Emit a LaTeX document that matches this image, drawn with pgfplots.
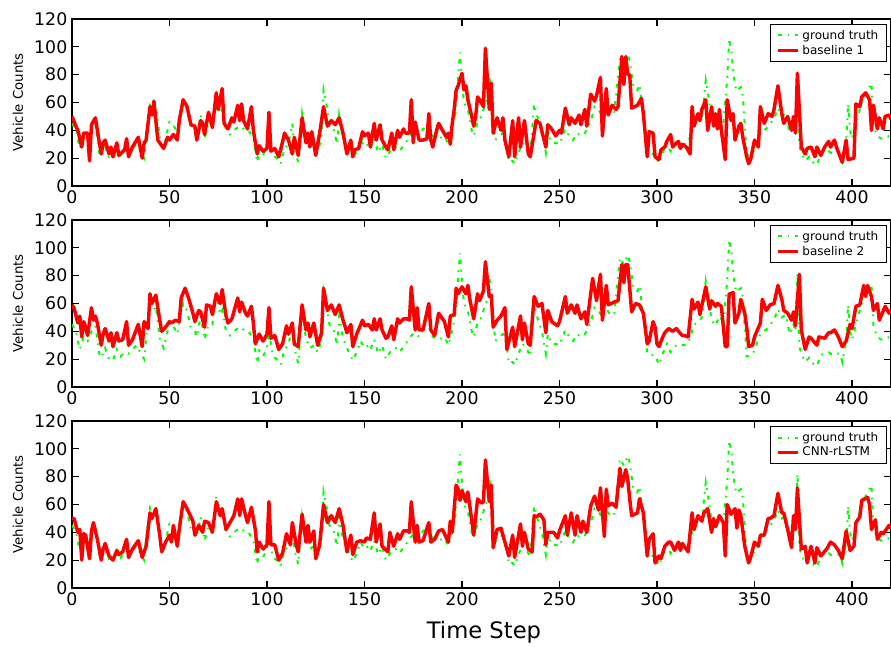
\documentclass[border=0pt]{standalone}
\usepackage{fontspec}
\setmainfont{DejaVu Sans}
\usepackage{pgfplots}
\pgfplotsset{compat=1.18}
\definecolor{gtgreen}{rgb}{0,1,0}
\definecolor{predred}{rgb}{1,0,0}

% ground truth, shared by all three panels
\newcommand\gtplot{\addplot[gtgreen, line width=1.5pt, dash pattern=on 3pt off 4.5pt on 1.2pt off 4.5pt] coordinates {
(0,45) (2,40) (4,27) (6,36) (8,33) (10,40) (12,44) (14,24) (15,21) (17,28) (19,20) (21,19) (23,27) (25,22) (27,25) (29,24)
(31,27) (33,30) (35,25) (37,20) (38,35) (40,58) (42,55) (43,58) (45,35) (47,28) (49,40) (50,46) (52,44) (54,38) (55,46)
(57,60) (59,55) (61,42) (63,40) (64,36) (66,51) (68,34) (70,45) (72,45) (74,66) (76,52) (77,55) (79,40) (81,37) (83,40)
(85,42) (87,43) (89,39) (91,39) (93,34) (95,17) (96,26) (98,22) (100,28) (101,40) (103,22) (105,20) (107,16) (109,27)
(111,30) (113,45) (114,28) (116,17) (118,52) (120,35) (122,28) (124,30) (126,25) (128,34) (129,69) (131,55) (132,45)
(134,42) (136,30) (137,51) (139,35) (141,28) (144,19) (146,25) (148,33) (150,28) (152,30) (153,27) (155,34) (157,24)
(159,30) (161,20) (164,27) (166,28) (168,25) (170,29) (172,33) (174,37) (176,39) (178,36) (180,41) (183,43) (185,36)
(188,34) (191,36) (193,30) (195,41) (197,55) (198,80) (199,96) (200,75) (201,60) (203,55) (205,40) (206,36) (208,46)
(210,50) (212,60) (213,62) (214,78) (215,70) (217,33) (219,36) (221,38) (223,30) (224,17) (226,18) (227,16) (229,24)
(231,31) (233,28) (235,22) (237,59) (239,48) (241,40) (243,24) (244,38) (246,31) (248,31) (250,30) (253,41) (255,36)
(257,33) (259,38) (261,36) (263,38) (266,46) (268,57) (270,55) (272,50) (274,56) (276,52) (278,52) (281,93) (283,88)
(285,95) (286,90) (288,70) (290,69) (291,73) (293,50) (295,24) (297,23) (299,23) (301,16) (303,24) (305,31) (307,25)
(309,29) (311,31) (313,30) (315,30) (317,35) (319,45) (321,46) (323,50) (324,62) (325,76) (326,68) (328,48) (330,44)
(332,51) (334,45) (336,77) (337,106) (338,99) (339,84) (340,72) (341,68) (342,70) (343,71) (344,65) (346,22) (348,22)
(350,26) (352,35) (354,40) (356,41) (358,45) (360,48) (362,56) (364,50) (366,52) (368,38) (370,45) (371,40) (372,82)
(373,29) (374,24) (376,18) (378,21) (380,17) (382,15) (384,23) (386,24) (388,25) (390,23) (392,24) (394,24) (395,18)
(397,32) (398,59) (399,40) (400,34) (402,45) (404,55) (406,63) (408,69) (410,74) (411,43) (413,36) (415,34) (417,34)
(419,36) (420,35)
};}

\pgfplotsset{
  panel/.style={
    scale only axis, width=614.25pt, height=125.25pt,
    xmin=0, xmax=420, ymin=0, ymax=120,
    xtick={0,50,...,400}, ytick={0,20,...,120},
    tick align=inside, major tick length=5pt,
    tick style={black, line width=0.8pt},
    tick label style={font=\fontsize{13}{15}\selectfont},
    /pgf/number format/assume math mode=true,
    axis line style={line width=0.9pt},
    ylabel={Vehicle Counts},
    every axis y label/.style={at={(axis description cs:-0.066,0.5)}, rotate=90, anchor=center, font=\fontsize{10}{12}\selectfont},
    legend style={at={(0.995,0.97)}, anchor=north east, font=\fontsize{9}{11}\selectfont,
      draw=black, line width=0.9pt, inner xsep=4pt, inner ysep=2pt, row sep=-1pt},
    legend image post style={xscale=0.9},
    legend cell align=left,
  },
  pred/.style={predred, line width=2.6pt, line join=round},
}

\begin{document}
\begin{tikzpicture}
\begin{axis}[panel, at={(0,301.5pt)}, anchor=south west]
\gtplot
\addplot[pred] coordinates {
(0,50) (2,43) (3,40) (5,28) (6,38) (8,38) (9,18) (10,44) (12,49) (13,40) (15,23) (16,31) (17,33) (19,23) (20,28) (21,21)
(23,31) (24,22) (27,26) (28,34) (29,21) (31,28) (34,35) (36,20) (37,31) (38,33) (40,57) (41,51) (42,61) (44,33) (47,27)
(49,35) (50,33) (52,37) (54,33) (55,47) (57,62) (59,57) (61,44) (63,43) (64,33) (66,47) (67,45) (68,37) (70,53) (72,42)
(74,67) (75,55) (77,70) (78,45) (80,41) (82,49) (83,46) (85,58) (86,47) (87,59) (88,47) (90,41) (92,57) (93,40) (95,23)
(96,29) (98,25) (100,27) (101,53) (102,25) (104,27) (106,21) (107,26) (109,38) (111,33) (113,23) (114,35) (116,22)
(118,49) (120,31) (121,38) (122,28) (123,39) (125,22) (127,38) (129,57) (131,43) (133,47) (135,44) (137,49) (139,38)
(141,23) (143,33) (144,21) (145,26) (147,27) (149,39) (150,36) (152,38) (153,28) (155,45) (156,33) (158,44) (159,33)
(161,28) (162,26) (164,38) (165,26) (167,40) (168,35) (170,41) (171,38) (173,38) (174,62) (175,31) (176,46) (178,33)
(180,33) (182,34) (183,52) (184,33) (185,28) (187,40) (188,45) (190,40) (192,35) (193,38) (194,30) (195,45) (196,55)
(197,69) (198,72) (200,81) (201,69) (202,72) (203,62) (205,50) (206,43) (207,50) (208,64) (209,62) (211,57) (212,99)
(214,55) (215,74) (216,38) (218,49) (220,40) (221,49) (222,33) (224,21) (226,47) (227,21) (229,49) (230,28) (232,47)
(234,23) (235,21) (237,38) (238,47) (240,45) (241,39) (243,28) (244,44) (246,41) (248,36) (250,40) (251,38) (253,56)
(255,44) (256,49) (258,45) (260,51) (261,44) (263,55) (264,43) (266,66) (268,61) (269,65) (271,78) (272,36) (274,70)
(275,51) (277,58) (279,55) (280,57) (282,93) (283,73) (284,93) (285,80) (286,80) (287,56) (290,58) (292,63) (293,52)
(295,21) (296,39) (298,38) (299,21) (301,19) (302,26) (304,28) (305,32) (307,37) (308,28) (310,31) (311,32) (312,27)
(313,30) (315,28) (317,23) (318,57) (319,43) (321,52) (322,47) (323,55) (325,62) (326,40) (328,57) (329,43) (330,52)
(331,41) (332,55) (333,40) (335,19) (336,62) (338,47) (339,52) (340,33) (342,43) (343,45) (344,35) (346,21) (347,16)
(348,19) (350,33) (352,28) (353,57) (355,45) (357,52) (359,50) (360,55) (362,72) (364,52) (365,45) (367,50) (369,40)
(370,50) (371,38) (372,81) (374,28) (376,23) (377,27) (379,28) (381,21) (382,28) (384,22) (386,28) (388,32) (389,28)
(391,33) (392,28) (395,17) (397,33) (398,19) (401,20) (402,59) (404,57) (405,64) (407,67) (409,62) (410,40) (411,58)
(413,41) (414,49) (416,41) (417,50) (419,51) (420,48)
};
\legend{ground truth, baseline 1}
\end{axis}

\begin{axis}[panel, at={(0,150.75pt)}, anchor=south west]
\gtplot
\addplot[pred] coordinates {
(0,59) (1,57) (3,46) (4,51) (5,36) (6,47) (7,43) (8,37) (10,57) (11,48) (12,51) (13,46) (15,30) (16,38) (17,42) (19,33)
(20,39) (21,29) (23,39) (24,33) (26,34) (28,47) (29,30) (31,34) (34,45) (36,29) (37,47) (39,42) (40,67) (41,60) (43,66)
(45,48) (46,40) (48,43) (50,47) (51,46) (53,48) (55,47) (56,64) (58,71) (60,63) (62,53) (63,47) (65,55) (66,54) (68,43)
(69,59) (71,58) (72,52) (74,67) (76,60) (77,70) (79,51) (80,46) (82,49) (85,64) (86,54) (87,61) (89,53) (90,51) (92,58)
(93,46) (94,31) (96,38) (98,33) (100,38) (101,57) (102,35) (104,37) (106,27) (108,31) (110,44) (111,38) (113,46) (114,31)
(116,29) (118,59) (120,41) (121,46) (122,36) (124,46) (126,30) (128,39) (129,71) (131,55) (133,59) (135,52) (137,59)
(139,48) (141,39) (143,45) (144,29) (146,38) (149,48) (150,44) (152,45) (154,41) (155,49) (156,41) (158,49) (159,41)
(161,35) (162,36) (164,44) (165,34) (167,49) (168,46) (170,49) (172,49) (173,48) (174,72) (176,41) (177,57) (178,41)
(180,41) (183,60) (184,41) (186,37) (188,53) (191,47) (193,36) (194,51) (196,52) (197,71) (198,67) (200,72) (202,67)
(203,73) (204,63) (206,49) (208,67) (209,62) (211,69) (212,90) (214,65) (215,66) (216,43) (218,48) (220,51) (222,57)
(223,27) (226,43) (227,29) (230,51) (231,34) (232,46) (234,31) (235,30) (237,65) (239,58) (241,60) (243,39) (244,55)
(246,47) (249,44) (250,47) (253,65) (254,53) (256,59) (258,53) (259,59) (261,49) (263,54) (264,45) (267,78) (269,62)
(271,81) (272,48) (274,73) (275,59) (278,61) (280,62) (282,88) (283,75) (284,88) (285,88) (287,54) (289,60) (291,59)
(293,53) (295,31) (296,33) (298,47) (299,43) (300,31) (301,29) (303,36) (304,39) (306,42) (308,40) (310,42) (311,40)
(313,37) (314,37) (316,36) (318,63) (319,56) (321,61) (322,52) (324,65) (325,72) (327,56) (328,62) (330,58) (331,60)
(333,58) (335,29) (336,29) (337,67) (338,67) (339,68) (340,46) (342,53) (343,63) (345,53) (346,43) (347,29) (349,30)
(350,36) (353,46) (354,63) (356,55) (358,59) (360,60) (362,73) (364,63) (365,55) (367,53) (369,48) (370,54) (371,44)
(373,81) (374,41) (376,27) (378,36) (379,35) (382,30) (383,36) (386,35) (388,39) (389,39) (391,41) (393,36) (395,29)
(397,33) (399,45) (400,42) (402,58) (404,59) (406,73) (407,65) (408,73) (410,65) (411,55) (413,60) (414,48) (417,58)
(419,53) (420,55)
};
\legend{ground truth, baseline 2}
\end{axis}

\begin{axis}[panel, at={(0,0)}, anchor=south west,
  xlabel={Time Step},
  every axis x label/.style={at={(axis description cs:0.503,-0.2635)}, anchor=center, font=\fontsize{17}{20}\selectfont}]
\gtplot
\addplot[pred] coordinates {
(0,50) (1,50) (3,40) (4,42) (5,20) (6,39) (7,38) (9,21) (10,41) (11,47) (13,35) (15,20) (16,28) (17,32) (19,23) (21,20)
(23,27) (24,24) (26,26) (28,35) (29,22) (31,28) (34,34) (36,22) (38,30) (40,54) (41,50) (43,57) (45,38) (46,26) (48,33)
(50,38) (51,33) (52,45) (54,30) (55,42) (57,62) (59,57) (62,48) (63,38) (65,45) (67,40) (68,48) (70,47) (72,40) (74,62)
(76,52) (77,57) (79,42) (81,47) (83,52) (85,64) (86,52) (87,64) (89,52) (90,47) (92,58) (94,42) (95,26) (96,33) (98,28)
(100,31) (101,62) (102,31) (104,31) (106,20) (108,25) (110,39) (112,31) (113,47) (115,31) (116,26) (118,53) (120,33)
(121,45) (122,33) (124,41) (125,21) (127,31) (129,60) (131,47) (133,52) (135,47) (137,57) (139,45) (141,26) (143,38)
(144,24) (146,33) (148,34) (150,33) (151,36) (153,35) (155,54) (156,33) (158,46) (159,30) (162,26) (163,40) (165,30)
(167,39) (168,35) (170,41) (172,41) (173,40) (174,62) (176,33) (177,45) (178,33) (180,34) (183,47) (184,33) (186,35)
(188,41) (190,42) (192,36) (193,33) (194,48) (195,40) (197,74) (198,71) (199,63) (200,70) (202,62) (203,69) (204,59)
(206,38) (208,64) (210,61) (211,62) (212,92) (214,62) (215,74) (216,29) (218,42) (220,43) (221,38) (224,23) (226,38)
(227,22) (230,46) (231,30) (232,40) (234,28) (236,26) (237,52) (238,51) (240,53) (242,49) (243,31) (244,40) (247,40)
(249,36) (250,41) (253,52) (254,38) (256,54) (258,38) (259,52) (261,40) (262,48) (264,40) (266,59) (268,66) (270,56)
(271,72) (273,37) (274,71) (275,59) (277,61) (279,58) (281,86) (282,73) (284,85) (285,78) (286,64) (287,52) (290,54)
(291,64) (293,54) (295,23) (296,35) (298,39) (299,18) (301,23) (302,21) (304,30) (306,33) (307,33) (309,27) (311,33)
(312,27) (313,32) (315,28) (316,26) (318,54) (319,42) (321,52) (323,48) (324,54) (326,57) (328,40) (329,50) (330,44)
(332,52) (334,47) (335,23) (336,60) (338,53) (340,57) (341,43) (342,56) (343,52) (345,30) (347,18) (348,22) (350,33)
(352,30) (353,38) (355,38) (357,50) (358,50) (360,52) (362,68) (364,54) (365,54) (367,42) (369,29) (370,52) (371,42)
(372,72) (374,28) (376,30) (377,18) (379,30) (381,18) (382,29) (384,23) (387,28) (389,33) (391,31) (393,27) (395,21)
(397,41) (399,27) (401,30) (402,47) (404,51) (405,63) (408,65) (409,60) (410,42) (412,49) (413,35) (415,40) (416,39)
(419,45) (420,43)
};
\legend{ground truth, CNN-rLSTM}
\end{axis}
\pgfresetboundingbox
\useasboundingbox (-54pt,-43.5pt) rectangle (614.25pt,441pt);
\end{tikzpicture}
\end{document}
